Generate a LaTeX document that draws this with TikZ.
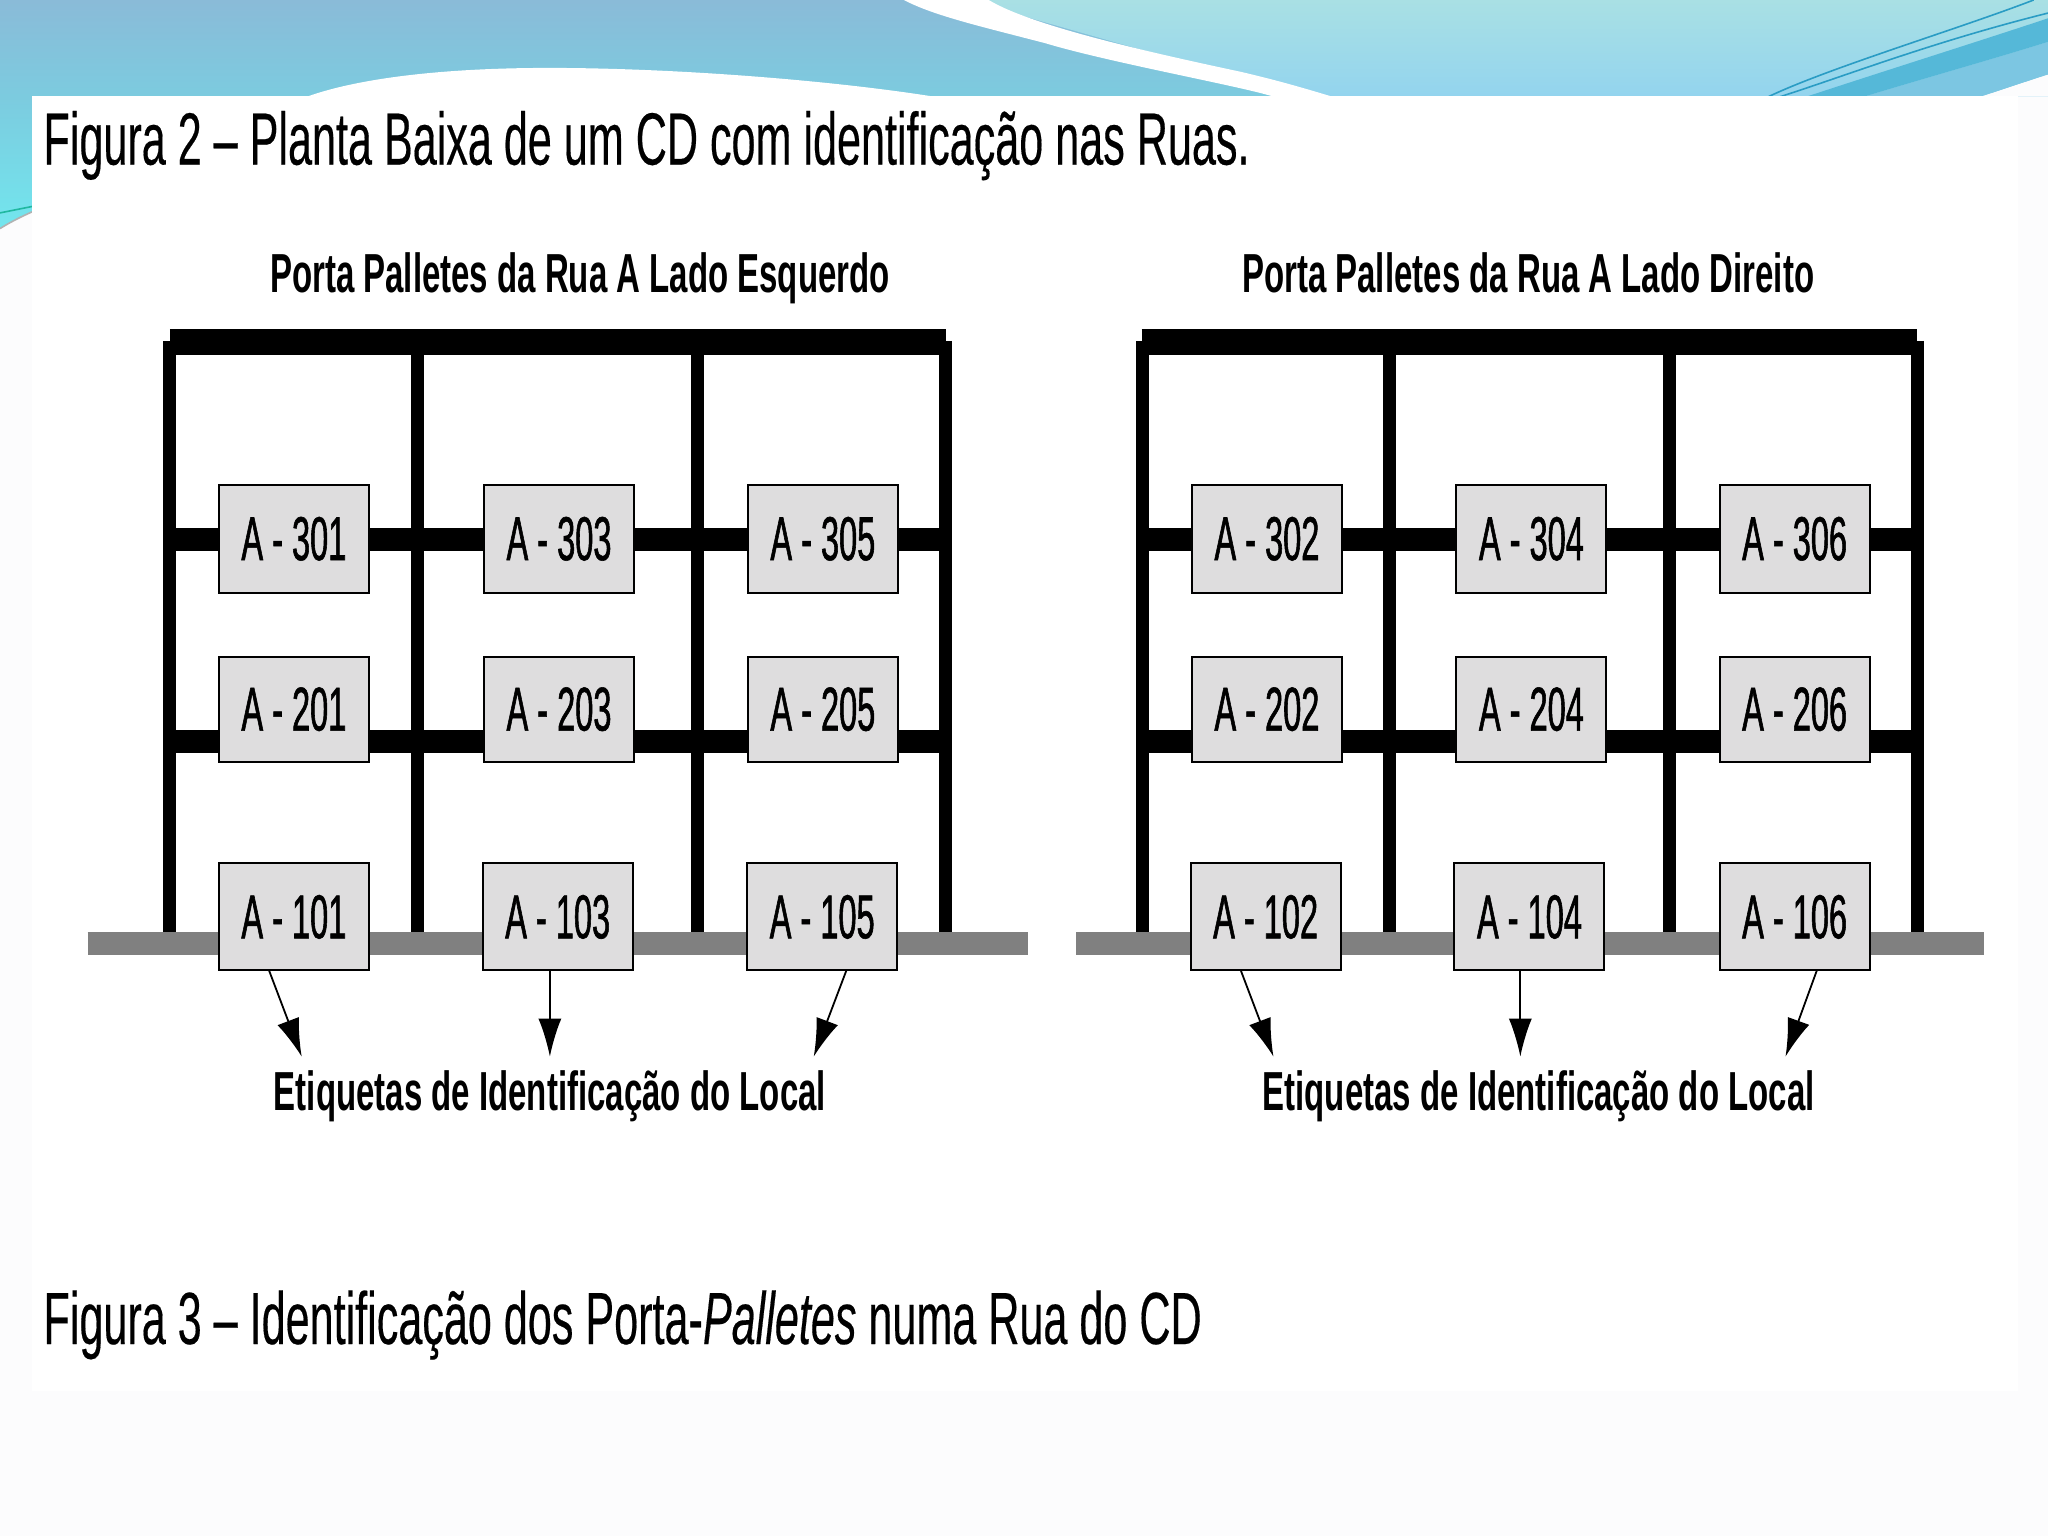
\documentclass[tikz,border=0pt]{standalone}
\usepackage{fontspec}
\usetikzlibrary{arrows.meta}
\setmainfont{Liberation Sans}
\newfontfamily\capfont[FakeStretch=0.583,FakeBold=0.25]{Liberation Sans}
\newfontfamily\capitfont[FakeStretch=0.583,FakeBold=0.25]{Liberation Sans Italic}
\newfontfamily\headbfont[FakeStretch=0.6]{Liberation Sans Bold}
\newfontfamily\boxfont[FakeStretch=0.525,FakeBold=0.9]{Liberation Sans}
\definecolor{bandA}{HTML}{8ABBD8}
\definecolor{bandB}{HTML}{7CCBDF}
\definecolor{bandC}{HTML}{A9E0E4}
\definecolor{bandD}{HTML}{93D4EE}
\definecolor{ribbon}{HTML}{55B8D8}
\definecolor{ribbonlight}{HTML}{7CC6E2}
\definecolor{thread}{HTML}{2A9CC4}
\definecolor{paper}{HTML}{FCFCFD}
\definecolor{boxfill}{HTML}{DEDDDE}
\definecolor{floorgray}{HTML}{808080}
\definecolor{cyanstrip}{HTML}{72E6EE}
\definecolor{greenline}{HTML}{20B8A0}
\tikzset{
  post/.style={line width=6.5pt},
  topbar/.style={line width=13pt},
  beam/.style={line width=11.5pt},
  floorbar/.style={line width=11.5pt,draw=floorgray},
  label box/.style={draw=black,fill=boxfill,line width=1pt,minimum width=75pt,inner sep=0pt,font=\boxfont\fontsize{31}{31}\selectfont},
  row high/.style={label box,minimum height=54pt},
  row mid/.style={label box,minimum height=52.5pt},
  row low/.style={label box,minimum height=53.5pt},
  heading/.style={inner sep=0pt,anchor=base,font=\headbfont\fontsize{27.5}{27.5}\selectfont},
  figcap/.style={inner sep=0pt,anchor=base west,font=\capfont\fontsize{37}{37}\selectfont},
  tag arrow/.style={line width=0.9pt,-{Latex[length=19pt,width=11.5pt]}}
}
\begin{document}
\begin{tikzpicture}[x=0.65306pt,y=-0.65306pt]
\useasboundingbox (0,0) rectangle (1568,1176);
% backgrounds
\fill[paper] (0,0) rectangle (1568,1176);
\shade[top color=bandA,bottom color=bandB] (0,0) rectangle (1000,74);
\shade[top color=bandC,bottom color=bandD] (740,0) -- (1568,0) -- (1568,74) -- (1000,74) -- cycle;
\fill[white] (692,0) -- (757,0) .. controls (790,20) and (880,40) .. (950,55) .. controls (980,62) and (1000,68) .. (1020,74) -- (975,74) .. controls (950,66) and (850,48) .. (800,33) .. controls (750,20) and (715,12) .. cycle;
\fill[white] (235,74) .. controls (280,58) and (350,52) .. (420,52) .. controls (520,52) and (640,62) .. (715,74) -- cycle;
\fill[paper] (1516,74) .. controls (1535,68) and (1552,62) .. (1568,57) -- (1568,74) -- cycle;
\fill[ribbonlight] (1427,74) .. controls (1480,58) and (1530,44) .. (1568,32) -- (1568,57) .. controls (1552,62) and (1535,68) .. (1516,74) -- cycle;
\fill[ribbon] (1383,74) .. controls (1450,52) and (1520,30) .. (1568,14) -- (1568,32) .. controls (1530,44) and (1480,58) .. (1427,74) -- cycle;
\draw[thread,line width=0.8pt] (1354,74) .. controls (1400,52) and (1500,22) .. (1557,0);
\draw[thread,line width=0.8pt] (1363,74) .. controls (1416,57) and (1480,32) .. (1568,10);
\shade[top color=bandB,bottom color=cyanstrip] (0,74) rectangle (25,176);
\fill[paper] (0,175) .. controls (8,170) and (16,166) .. (25,162) -- (25,1176) -- (0,1176) -- cycle;
\draw[gray!60,line width=0.8pt] (0,175) .. controls (8,170) and (16,166) .. (25,162);
\draw[greenline,line width=0.8pt] (0,163) -- (25,158);
\fill[white] (24.5,73.5) rectangle (1545,1065);
% captions
\node[figcap] (capA) at (33,126) {Figura 2 – Planta Baixa de um CD com identificação nas Ruas.};
\node[figcap] (capB) at (33,1029) {Figura 3 – Identificação dos Porta-{\capitfont Palletes} numa Rua do CD};
\node[heading] (headL) at (444,224) {Porta Palletes da Rua A Lado Esquerdo};
\node[heading] (headR) at (1170,224) {Porta Palletes da Rua A Lado Direito};
% left rack
\foreach \x in {130,320,534,724} \draw[post] (\x,261) -- (\x,714);
\draw[topbar] (130,262) -- (724,262);
\draw[beam] (130,413) -- (724,413);
\draw[beam] (130,568) -- (724,568);
\draw[floorbar] (67,722) -- (787,722);
% right rack
\foreach \x in {875,1064,1278,1468} \draw[post] (\x,261) -- (\x,714);
\draw[topbar] (874,262) -- (1468,262);
\draw[beam] (875,413) -- (1468,413);
\draw[beam] (875,568) -- (1468,568);
\draw[floorbar] (824,722) -- (1519,722);
% label boxes
\node[row high] (a301) at (225,412.5) {A - 301};
\node[row high] (a303) at (428,412.5) {A - 303};
\node[row high] (a305) at (630,412.5) {A - 305};
\node[row mid] (a201) at (225,543) {A - 201};
\node[row mid] (a203) at (428,543) {A - 203};
\node[row mid] (a205) at (630,543) {A - 205};
\node[row low] (a101) at (225,702) {A - 101};
\node[row low] (a103) at (427,702) {A - 103};
\node[row low] (a105) at (629.5,702) {A - 105};
\node[row high] (a302) at (970,412.5) {A - 302};
\node[row high] (a304) at (1172.5,412.5) {A - 304};
\node[row high] (a306) at (1374,412.5) {A - 306};
\node[row mid] (a202) at (970,543) {A - 202};
\node[row mid] (a204) at (1172.5,543) {A - 204};
\node[row mid] (a206) at (1374,543) {A - 206};
\node[row low] (a102) at (969,702) {A - 102};
\node[row low] (a104) at (1171,702) {A - 104};
\node[row low] (a106) at (1374,702) {A - 106};
% arrows
\node[heading] (tagL) at (421,850) {Etiquetas de Identificação do Local};
\node[heading] (tagR) at (1178,850) {Etiquetas de Identificação do Local};
\coordinate (l1) at (231,809);
\coordinate (l2) at (421,809);
\coordinate (l3) at (623,809);
\coordinate (r1) at (975,809);
\coordinate (r2) at (1164,809);
\coordinate (r3) at (1367,809);
\draw[tag arrow] (206,743) -- (l1);
\draw[tag arrow] (421,743) -- (l2);
\draw[tag arrow] (648,743) -- (l3);
\draw[tag arrow] (950,743) -- (r1);
\draw[tag arrow] (1164,743) -- (r2);
\draw[tag arrow] (1391,743) -- (r3);
\end{tikzpicture}
\end{document}
